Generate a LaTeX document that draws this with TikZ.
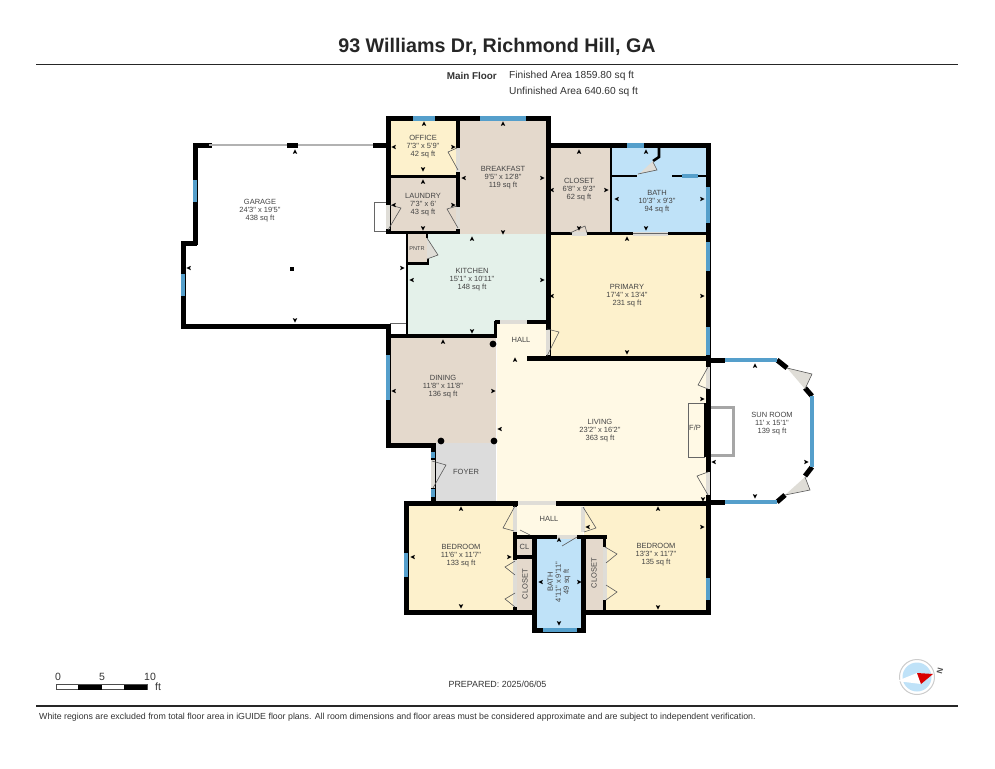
\documentclass[tikz,border=0pt]{standalone}
\usepackage{fontspec}
\newfontfamily\lf{Liberation Sans}
\definecolor{winblue}{HTML}{559FCB}
\definecolor{cream}{HTML}{FDF1CC}
\definecolor{livingc}{HTML}{FFF9E5}
\definecolor{beige}{HTML}{E4D9CC}
\definecolor{bluer}{HTML}{BFE2F8}
\definecolor{greenr}{HTML}{E4F1EA}
\definecolor{foyerc}{HTML}{DCDCDC}
\definecolor{txt}{HTML}{444444}
\definecolor{gapc}{HTML}{DFDDD7}
\tikzset{
 wl/.style={line width=5pt,black},
 wm/.style={line width=3.5pt,black},
 ws/.style={line width=2.2pt,black},
 win/.style={line width=4.6pt,winblue},
 gapl/.style={line width=4pt,gapc},
 gl/.style={line width=.6pt,gray!80!black},
 door/.style={line width=.6pt,draw=black!65},
 room/.style={font=\lf\fontsize{7.5}{8}\selectfont,text=txt,align=center,inner sep=0pt},
 lab/.style={font=\lf\fontsize{10.2}{11}\selectfont,text=black!80,inner sep=0pt},
}
\begin{document}
\begin{tikzpicture}[x=1pt,y=-1pt]
\path[use as bounding box,fill=white] (0,0) rectangle (995,768);
% room fills
\fill[cream] (390,120) rectangle (458,175);
\fill[beige] (458,120) rectangle (548,234);
\fill[beige] (390,177) rectangle (458,232);
\fill[beige] (548,146) rectangle (611,234);
\fill[bluer] (611,146) rectangle (706,234);
\fill[greenr] (408,234) -- (548,234) -- (548,322) -- (497,322) -- (497,335) -- (408,335) -- cycle;
\fill[beige] (408,234) rectangle (427,263);
\fill[cream] (548,234) rectangle (706,357);
\fill[beige] (390,337) -- (496,337) -- (496,443) -- (436,443) -- (436,446) -- (390,446) -- cycle;
\fill[foyerc] (436,443) rectangle (496,501);
\fill[livingc] (497,323) -- (547,323) -- (547,358) -- (707,358) -- (707,502) -- (497,502) -- cycle;
\fill[cream] (408,505) rectangle (515,610);
\fill[livingc] (515,505) rectangle (583,535);
\fill[beige] (515,538) rectangle (534,610);
\fill[bluer] (534,538) rectangle (583,628);
\fill[beige] (584,538) rectangle (605,610);
\fill[cream] (584,505) -- (706,505) -- (706,611) -- (605,611) -- (605,536) -- (584,536) -- cycle;
% small outlined boxes
\draw[gl] (388,202) -- (374,202) -- (374,231) -- (388,231);
\draw[gl] (390,323) -- (407,323);
\draw[gl] (390,334) -- (407,334);
\draw[line width=3pt,gray!70] (710,407) -- (733,407) -- (733,455) -- (710,455);
\draw[gl,fill=livingc] (688,403) rectangle (704,457);
% garage walls
\draw[wl,line cap=rect] (195,145) -- (209,145);
\draw[wl] (287,145) -- (298,145);
\draw[wl] (373,145) -- (388,145);
\draw[line width=1.6pt,gray!60] (209,145) -- (287,145) (298,145) -- (373,145);
\draw[wl] (195,143) -- (195,245);
\draw[wl] (197,243) -- (181,243);
\draw[wl] (183,241) -- (183,328);
\draw[wl] (181,326) -- (390,326);
\draw[wl] (388,324) -- (388,345);
% upper block
\draw[wl,line cap=rect] (388,118.5) -- (548,118.5);
\draw[wl] (388,116) -- (388,234);
\draw[wl] (548,116) -- (548,360);
\draw[wm] (458,118) -- (458,234);
\draw[wm] (388,176.5) -- (458,176.5);
\draw[wm] (386,232.5) -- (460,232.5);
\draw[wl] (546,145.5) -- (708,145.5);
\draw[wl] (708,143) -- (708,505);
\draw[ws] (611,146) -- (611,234);
\draw[line width=2.6pt,black] (611,176) -- (637,176);
\draw[line width=2.6pt,black] (653,161) -- (659,157) -- (659,147);
\draw[line width=2.6pt,black] (672,176) -- (706,176);
\draw[wm] (546,233.5) -- (708,233.5);
% kitchen
\draw[ws] (407,232) -- (407,337);
\draw[line width=3pt,black] (407,263) -- (429,263);
\draw[line width=2.6pt,black] (428,264) -- (428,256);
\draw[line width=2.6pt,black] (427,234) -- (427,238);
\draw[wm] (386,336) -- (497,336);
\draw[wm] (495.5,337) -- (495.5,321);
\draw[wm] (495,322) -- (500,322);
\draw[wm] (527,322) -- (548,322);
% dining & foyer
\draw[wl] (388,336) -- (388,448);
\draw[wl] (386,445.5) -- (436,445.5);
\draw[wl] (433,443) -- (433,503);
% mid walls
\draw[wl] (527,358) -- (708,358);
\draw[wl] (708,360) -- (725,360);
\draw[wl] (708,502) -- (725,502);
\draw[wl] (777,360) -- (787,368);
\draw[wl] (805,388) -- (812,396);
\draw[wl] (812,467) -- (805,476);
\draw[wl] (785,495) -- (777,502);
\draw[wl] (706,403) -- (706,457);
% lower block
\draw[wl] (404,503) -- (518,503);
\draw[wl] (556,503) -- (710,503);
\draw[wl] (406,501) -- (406,615);
\draw[wl] (404,612.5) -- (536,612.5);
\draw[wl] (582,612.5) -- (711,612.5);
\draw[wl] (708,503) -- (708,615);
\draw[wl] (534.5,535) -- (534.5,632);
\draw[wl] (583,535) -- (583,632);
\draw[wl] (532,630) -- (586,630);
\draw[wm] (515,537) -- (557,537);
\draw[wm] (577,537) -- (607,537);
\draw[wm] (515,505) -- (515,558);
\draw[wm] (515,557) -- (534,557);
\draw[wm] (515,558) -- (515,612);
\draw[wm] (604.5,537) -- (604.5,612);
% door openings
\foreach \ax/\ay/\bx/\by in {458/148/458/172, 458/207/458/229, 388/205/388/229, 548/330/548/355,
  572/233.5/587/233.5, 500/322/527/322, 518/503/556/503, 708/367/708/389, 708/472/708/495,
  515/507/515/532, 583/507/583/532, 515/560/515/607, 604.5/547/604.5/600, 557/537/577/537, 433/460/433/488}
  \draw[gapl] (\ax,\ay) -- (\bx,\by);
\fill[gapc] (637,176) -- (653,161) -- (657,170) -- (638,174) -- cycle;
\fill[gapc] (427,238) -- (438,255) -- (427,259) -- cycle;
\fill[gapc] (787,368) -- (812,374) -- (805,389) -- cycle;
\fill[gapc] (785,495) -- (810,490) -- (805,477) -- cycle;
\draw[line width=4pt,gapc] (633,233.5) -- (668,233.5);
\draw[line width=1pt,black!60] (633,233.5) -- (668,233.5);
% windows
\foreach \ax/\ay/\bx/\by in {413/118.5/435/118.5, 480/118.5/526/118.5, 627/145.5/644/145.5,
  708/187/708/223, 708/242/708/271, 708/327/708/355, 682/176/698/176,
  195/180/195/202, 183/274/183/296, 388/355/388/400, 725/360/777/360, 725/502/777/502,
  812/396/812/467, 406/553/406/577, 708/578/708/600, 543/630/577/630, 433/452/433/458, 433/489/433/497}
  \draw[win] (\ax,\ay) -- (\bx,\by);
% door leaves
\foreach \ax/\ay/\bx/\by/\cx/\cy in {458/170/448/152/457/148, 458/228/447/209/457/206, 388/230/401/208/390/205,
  427/238/438/255/427/259, 547/356/559/332/547/329, 638/174/657/170/653/162, 570/233/585/226/587/233,
  433/488/446/465/432/461, 787/368/812/374/805/389, 785/495/810/490/805/477, 708/367/698/385/708/389,
  708/495/697/476/708/472, 515/506/503/528/514/531, 583/507/596/528/584/532, 515/561/505/567/515/575,
  515/593/505/599/515/607, 605/547/617/554/606/563, 606/585/617/592/606/600}
  \draw[door] (\ax,\ay) -- (\bx,\by) -- (\cx,\cy);
\draw[door] (520,530) -- (530,535);
\draw[door] (562,546) -- (577,537);
% columns
\fill (493,344) circle (3.4);
\fill (441,441) circle (3.4);
\fill (494,441) circle (3.4);
\fill (290,267) rectangle (294,271);
% dimension markers
\foreach \x/\y/\a in {424/124/90, 423/169/270, 394/147/180, 453/147/0,
 503/124/90, 503/232/270, 464/178/180, 542/178/0,
 423/182/90, 423/228/270, 394/205/180, 453/205/0,
 579/152/90, 579/228/270, 552/190/180, 606/190/0,
 646/152/90, 646/228/270, 617/199/180, 702/199/0,
 472/239/90, 472/331/270, 412/280/180, 542/280/0,
 627/239/90, 627/352/270, 552/296/180, 702/296/0,
 402/268/0, 295/152/90, 295/320/270, 189/268/180,
 443/342/90, 394/391/180, 493/391/0,
 515/360/90, 500/429/180, 702/399/0, 703/499/270,
 755/366/90, 755/496/270, 714/462/180, 806/462/0,
 461/509/90, 461/606/270, 413/557/180, 509/557/0,
 658/509/90, 658/607/270, 588/527/180, 702/527/0,
 559/540/90, 559/623/270, 541/582/180, 579/582/0}
 \fill[black,shift={(\x,\y)},rotate=\a] (2.6,0) -- (-1.9,2.2) -- (-1,0) -- (-1.9,-2.2) -- cycle;
% room labels
\node[room] (office) at (423,147) {OFFICE\\7'3" x 5'9"\\42 sq ft};
\node[room] (breakfast) at (503,178) {BREAKFAST\\9'5" x 12'8"\\119 sq ft};
\node[room] (laundry) at (423,205) {LAUNDRY\\7'3" x 6'\\43 sq ft};
\node[room] (closetA) at (579,190) {CLOSET\\6'8" x 9'3"\\62 sq ft};
\node[room] (bathA) at (657,202) {BATH\\10'3" x 9'3"\\94 sq ft};
\node[room] (garage) at (260,211) {GARAGE\\24'3" x 19'5"\\438 sq ft};
\node[room] (kitchen) at (472,280) {KITCHEN\\15'1" x 10'11"\\148 sq ft};
\node[room] (primary) at (627,296) {PRIMARY\\17'4" x 13'4"\\231 sq ft};
\node[room] (hallA) at (521,340) {HALL};
\node[room,font=\lf\fontsize{5.6}{6}\selectfont] (pntr) at (417,249) {PNTR};
\node[room] (dining) at (443,387) {DINING\\11'8" x 11'8"\\136 sq ft};
\node[room] (living) at (600,431) {LIVING\\23'2" x 16'2"\\363 sq ft};
\node[room] (sun) at (772,424) {SUN ROOM\\11' x 15'1"\\139 sq ft};
\node[room] (foyer) at (466,472) {FOYER};
\node[room] (hallB) at (549,519) {HALL};
\node[room] (cl) at (524.5,547) {CL};
\node[room] (bedL) at (461,556) {BEDROOM\\11'6" x 11'7"\\133 sq ft};
\node[room] (bedR) at (656,555) {BEDROOM\\13'3" x 11'7"\\135 sq ft};
\node[room,rotate=90] (bathB) at (559,582) {BATH\\4'11" x 9'11"\\49 sq ft};
\node[room,rotate=90] (closetL) at (525,584) {CLOSET};
\node[room,rotate=90] (closetR) at (594,573) {CLOSET};
\node[room] (fp) at (695,428) {F/P};
% header
\node[font=\lf\bfseries\fontsize{19.7}{21}\selectfont,text=black!85,inner sep=0pt] (title) at (497,47) {93 Williams Dr, Richmond Hill, GA};
\draw[line width=1.4pt,black!85] (36,64.5) -- (958,64.5);
\node[lab,font=\lf\bfseries\fontsize{9.9}{11}\selectfont,anchor=east] (mf) at (497,76) {Main Floor};
\node[lab,anchor=west] (fa) at (509,76) {Finished Area 1859.80 sq ft};
\node[lab,anchor=west] (ua) at (509,92) {Unfinished Area 640.60 sq ft};
% footer
\node[lab,font=\lf\fontsize{8.9}{11}\selectfont] (prep) at (497.5,684) {PREPARED: 2025/06/05};
\draw[line width=1.4pt,black!85] (36,706) -- (958,706);
\node[lab,anchor=west,font=\lf\fontsize{8.8}{10}\selectfont] (note) at (39,717.5) {White regions are excluded from total floor area in iGUIDE floor plans. All room dimensions and floor areas must be considered approximate and are subject to independent verification.};
% scale bar
\draw[line width=.6pt,black!70] (56,684.5) rectangle (147,689.5);
\fill[black] (78,684.5) rectangle (102,689.5);
\fill[black] (124,684.5) rectangle (147,689.5);
\node[lab,font=\lf\fontsize{10.5}{12}\selectfont] (s0) at (58,677) {0};
\node[lab,font=\lf\fontsize{10.5}{12}\selectfont] (s5) at (102,677) {5};
\node[lab,font=\lf\fontsize{10.5}{12}\selectfont] (s10) at (150,677) {10};
\node[lab,font=\lf\fontsize{10.5}{12}\selectfont] (sft) at (158,687) {ft};
% compass
\draw[line width=1pt,gray!40,fill=white] (917,677) circle (17.5);
\fill[bluer] (917,677) circle (14.5);
\fill[white] (897,681) -- (917,673) -- (921,684) -- cycle;
\fill[red!85!black] (917,673) -- (933,674) -- (921,684) -- cycle;
\node[font=\lf\bfseries\fontsize{8}{8}\selectfont,text=black!70,rotate=75,inner sep=0pt] (north) at (940,671) {N};
\end{tikzpicture}
\end{document}
